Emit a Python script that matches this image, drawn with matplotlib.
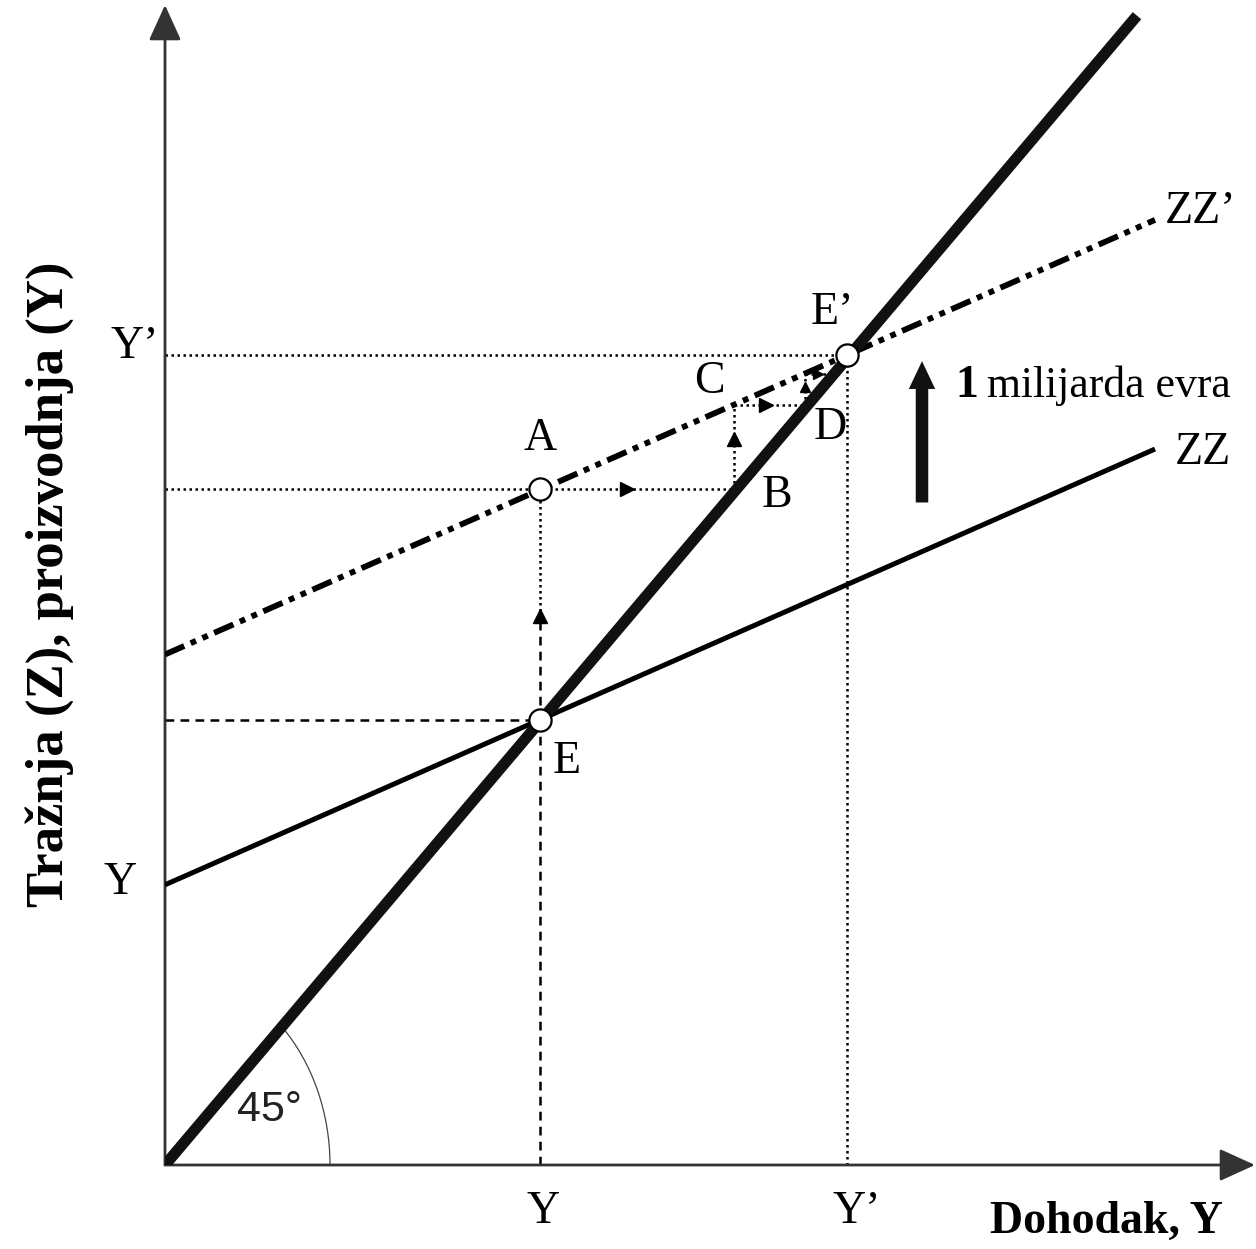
import matplotlib
matplotlib.use("Agg")
import matplotlib.pyplot as plt
from matplotlib.patches import Arc

plt.rcParams['font.family'] = ['Liberation Serif', 'DejaVu Serif']

# values (x in income units, y in demand units)
line45_x = [0, 972]
line45_y = [0, 968]
zz_x = [0, 990]
zz_y = [236, 603]
zzp_x = [0, 990]
zzp_y = [430, 796]

y_eq = 375          # Y
y_eq_new = 682      # Y'
pt_A = (375, 569)
pt_B = (569, 569)
pt_C = (569, 640)
pt_D = (640, 640)
pt_D2 = (640, 666)
pt_D3 = (666, 666)

point_labels = ['A', 'B', 'C', 'D', 'E', 'E\u2019']
point_label_xy = [(375, 612), (612, 564), (544, 660), (665, 621), (402, 340), (667, 718)]

XMAX, YMAX = 1091, 977

fig = plt.figure(figsize=(12.56, 12.49), dpi=100)
ax = fig.add_axes([165 / 1256, 84 / 1249, 1091 / 1256, 1160 / 1249])
ax.set_xlim(0, XMAX)
ax.set_ylim(0, YMAX)
ax.axis('off')

axis_col = '#333333'
# axes with arrows
for tip in [(0, YMAX), (XMAX - 1, 0)]:
    ax.annotate('', xy=tip, xytext=(0, 0),
                arrowprops=dict(arrowstyle='-|>,head_length=0.55,head_width=0.25',
                                lw=2, color=axis_col, mutation_scale=40,
                                shrinkA=0, shrinkB=0), annotation_clip=False)

dot = (0, (1, 1.4))
dash = (0, (3.5, 2.5))
gkw = dict(color='black', lw=1.8, zorder=2)

# guide lines
ax.plot([0, y_eq_new], [y_eq_new, y_eq_new], linestyle=dot, **gkw)
ax.plot([y_eq_new, y_eq_new], [0, y_eq_new], linestyle=dot, **gkw)
ax.plot([0, y_eq], [y_eq, y_eq], linestyle=dash, **gkw)
ax.plot([y_eq, y_eq], [0, y_eq], linestyle=dash, **gkw)

# multiplier steps
mid_EA = y_eq + 0.42 * (pt_A[1] - y_eq)
ax.plot([y_eq, y_eq], [y_eq, mid_EA], linestyle=dash, **gkw)
ax.plot([y_eq, y_eq], [mid_EA, pt_A[1]], linestyle=dot, **gkw)
ax.plot([0, pt_B[0]], [pt_A[1], pt_B[1]], linestyle=dot, **gkw)
ax.plot([pt_B[0], pt_C[0]], [pt_B[1], pt_C[1]], linestyle=dot, **gkw)
ax.plot([pt_C[0], pt_D[0]], [pt_C[1], pt_D[1]], linestyle=dot, **gkw)
ax.plot([pt_D[0], pt_D2[0]], [pt_D[1], pt_D2[1]], linestyle=dot, **gkw)
ax.plot([pt_D2[0], pt_D3[0]], [pt_D2[1], pt_D3[1]], linestyle=dot, **gkw)

mk = dict(color='black', ms=10, zorder=3, linestyle='none')
ax.plot([y_eq], [mid_EA + 6], marker='^', **mk)
ax.plot([pt_A[0] + 0.45 * (pt_B[0] - pt_A[0])], [pt_A[1]], marker='>', **mk)
ax.plot([pt_B[0]], [pt_B[1] + 0.6 * (pt_C[1] - pt_B[1])], marker='^', **mk)
ax.plot([pt_C[0] + 0.45 * (pt_D[0] - pt_C[0])], [pt_C[1]], marker='>', **mk)
ax.plot([pt_D[0]], [pt_D[1] + 0.6 * (pt_D2[1] - pt_D[1])], marker='^', ms=7,
        color='black', zorder=3)
ax.plot([pt_D2[0] + 0.5 * (pt_D3[0] - pt_D2[0])], [pt_D2[1]], marker='>', ms=7,
        color='black', zorder=3)

# curves
ax.plot(zz_x, zz_y, color='black', lw=3.6, solid_capstyle='butt', zorder=4)
ax.plot(zzp_x, zzp_y, color='black', lw=4.2, dash_capstyle='butt',
        linestyle=(0, (3.6, 1.2, 1, 1.2, 1, 1.2)), zorder=4)
ax.plot(line45_x, line45_y, color='#111111', lw=8, solid_capstyle='butt', zorder=5)

# equilibrium / step circles
for px, py in [(y_eq, y_eq), pt_A, (y_eq_new, y_eq_new)]:
    ax.plot([px], [py], marker='o', ms=16, mfc='white', mec='black', mew=1.6,
            zorder=6)

# 45 degree arc
ax.add_patch(Arc((0, 0), 330, 330, theta1=0, theta2=45, lw=0.9, color='#444444'))
ax.text(104, 46, '45\u00b0', fontsize=31, family=['Liberation Sans', 'DejaVu Sans'],
        ha='center', va='center', color='#222222')

# shift arrow
ax.annotate('', xy=(757, 677), xytext=(757, 558),
            arrowprops=dict(width=9, headwidth=19, headlength=20,
                            facecolor='#111111', edgecolor='none',
                            shrink=0))

fs = 33
ax.text(790, 647, '1', fontsize=fs, fontweight='bold', ha='left', va='baseline')
ax.text(822, 647, 'milijarda evra', fontsize=31.5, ha='left', va='baseline')
ax.text(1000, 803, 'ZZ\u2019', fontsize=fs, ha='left', va='center')
ax.text(1010, 600, 'ZZ', fontsize=fs, ha='left', va='center')

for lab, (tx, ty) in zip(point_labels, point_label_xy):
    ax.text(tx, ty, lab, fontsize=fs, ha='center', va='center')

# axis tick labels
ax.text(-30, 689, 'Y\u2019', fontsize=fs, ha='center', va='center')
ax.text(-45, 238, 'Y', fontsize=fs, ha='center', va='center')
ax.text(y_eq + 3, -39, 'Y', fontsize=fs, ha='center', va='center')
ax.text(y_eq_new + 10, -39, 'Y\u2019', fontsize=fs, ha='center', va='center')

ax.text(1058, -48, 'Dohodak, Y', fontsize=fs, fontweight='bold',
        ha='right', va='center')
ax.text(-115, 489, 'Tražnja (Z), proizvodnja (Y)', fontsize=38,
        fontweight='bold', rotation=90, ha='center', va='center')

fig.savefig('out.png', dpi=100)
